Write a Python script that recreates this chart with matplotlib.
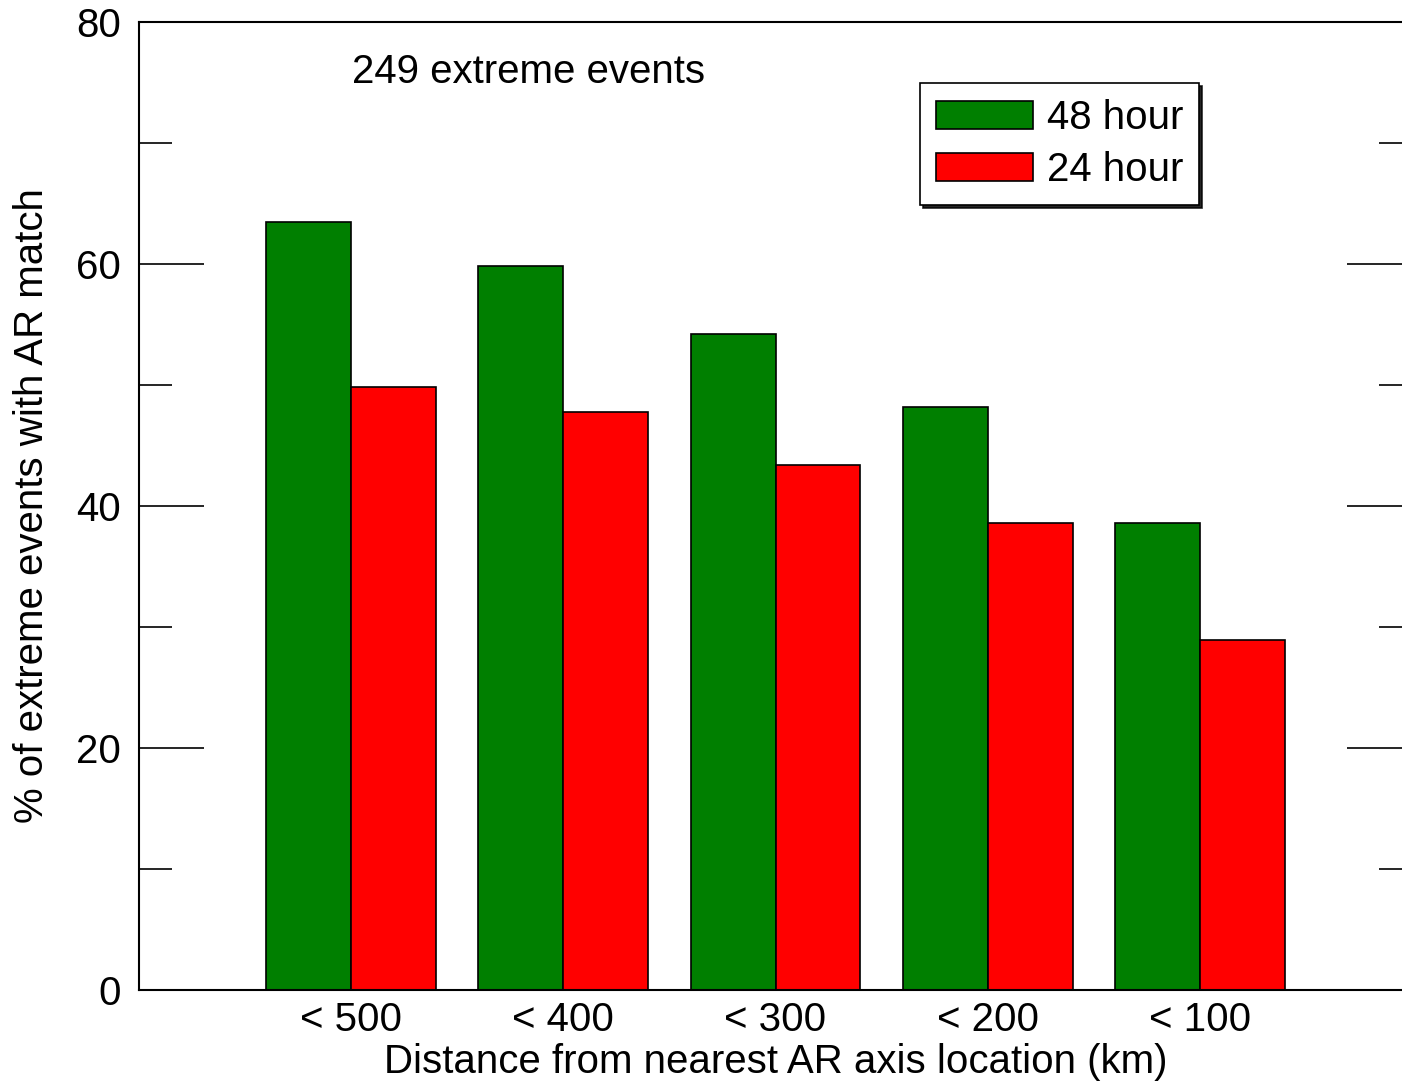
import numpy as np
import matplotlib.pyplot as plt
from matplotlib.ticker import MultipleLocator

plt.rcParams["font.family"] = ["Liberation Sans", "DejaVu Sans"]

categories = ["< 500", "< 400", "< 300", "< 200", "< 100"]
hour48 = [63.5, 59.8, 54.2, 48.2, 38.6]
hour24 = [49.8, 47.8, 43.4, 38.6, 28.9]
series_names = ["48 hour", "24 hour"]
colors = ["#007f00", "#ff0000"]

FS = 29

fig = plt.figure(figsize=(14.02, 10.84), dpi=100)
ax = fig.add_axes([139 / 1402, 94 / 1084, 1273 / 1402, 968 / 1084])

x = np.arange(1, len(categories) + 1)
width = 0.4
ax.bar(x - width / 2, hour48, width, color=colors[0], edgecolor="black", linewidth=1.2, label=series_names[0])
ax.bar(x + width / 2, hour24, width, color=colors[1], edgecolor="black", linewidth=1.2, label=series_names[1])

ax.set_xlim(0, 6)
ax.set_ylim(0, 80)
ax.set_xticks(x)
ax.set_xticklabels(categories)
ax.yaxis.set_major_locator(MultipleLocator(20))
ax.yaxis.set_minor_locator(MultipleLocator(10))

ax.tick_params(axis="x", length=0, labelsize=FS, pad=8)
ax.tick_params(axis="y", which="major", direction="in", length=47, width=1.2, right=True, labelsize=FS, pad=13)
ax.tick_params(axis="y", which="minor", direction="in", length=24, width=1.2, right=True)
ax.spines["right"].set_visible(False)
for s in ["left", "top", "bottom"]:
    ax.spines[s].set_linewidth(1.5)

ax.set_xlabel("Distance from nearest AR axis location (km)", fontsize=FS, labelpad=3)
ax.set_ylabel("% of extreme events with AR match", fontsize=FS, labelpad=18)

ax.text(0.167, 0.948, "249 extreme events", transform=ax.transAxes, fontsize=FS, va="center", ha="left")

leg = ax.legend(loc="upper right", bbox_to_anchor=(0.833, 0.937), borderaxespad=0,
                fontsize=FS, fancybox=False, shadow={"color": "black", "alpha": 0.85},
                edgecolor="black", framealpha=1, handlelength=2.4, handleheight=0.7,
                handletextpad=0.35, labelspacing=0.35, borderpad=0.4)
leg.get_frame().set_linewidth(1.2)

fig.savefig("out.png", dpi=100)
